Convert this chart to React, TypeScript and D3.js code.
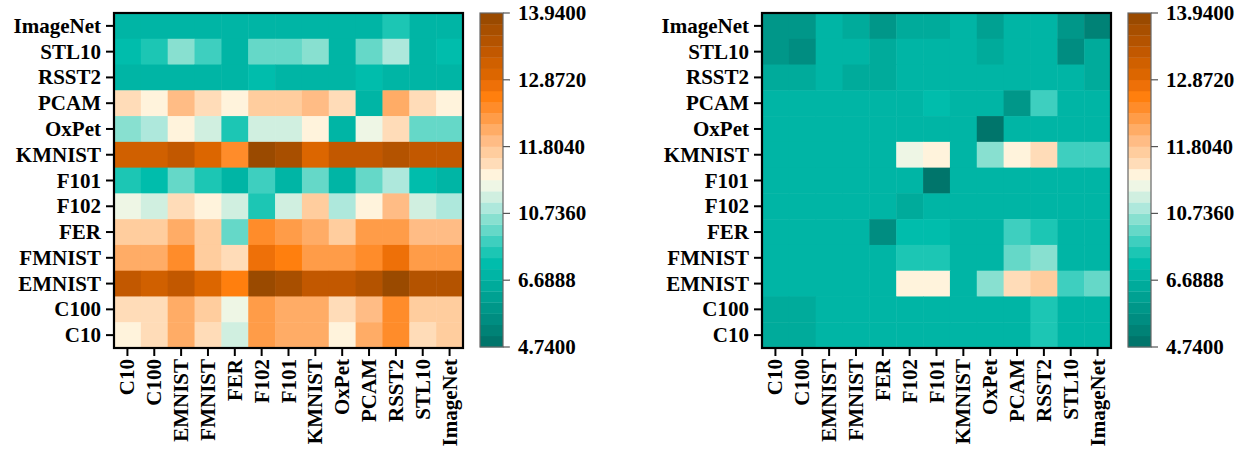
import React from "react";
import * as d3 from "d3";

const rowLabels = ["ImageNet", "STL10", "RSST2", "PCAM", "OxPet", "KMNIST", "F101", "F102", "FER", "FMNIST", "EMNIST", "C100", "C10"];
const colLabels = ["C10", "C100", "EMNIST", "FMNIST", "FER", "F102", "F101", "KMNIST", "OxPet", "PCAM", "RSST2", "STL10", "ImageNet"];

const cbTicks = [4.74, 6.6888, 10.736, 11.804, 12.872, 13.94];
const cbTickLabels = ["4.7400", "6.6888", "10.7360", "11.8040", "12.8720", "13.9400"];

// discrete palette, bottom (low) to top (high)
const palette = [
  "#00756b", "#008276", "#008d81", "#009789", "#00a192", "#00ab9b",
  "#00b5a5", "#00bdac", "#1cc6b4", "#3ecfbf", "#65d8c8", "#88e0d0",
  "#aee8dc", "#d0efe0", "#eef6e5", "#fff3dc", "#ffdcb8", "#ffcd9e",
  "#ffbc85", "#ffac66", "#ff9c48", "#ff8c2a", "#ff7f0e", "#ee7008",
  "#dc6600", "#d06000", "#c25800", "#b45300", "#a84f00", "#9a4a00",
];

const leftValues = [
  [7.03, 7.03, 7.03, 7.03, 7.03, 7.03, 7.03, 7.03, 7.03, 7.03, 8.37, 7.03, 7.03],
  [7.70, 8.37, 10.40, 9.05, 7.03, 9.72, 9.72, 10.40, 7.03, 9.72, 10.83, 7.03, 7.70],
  [7.03, 7.03, 7.03, 7.03, 7.03, 7.70, 7.03, 7.03, 7.03, 7.70, 7.03, 7.03, 7.03],
  [11.54, 11.36, 11.89, 11.54, 11.36, 11.71, 11.71, 11.89, 11.54, 7.03, 12.07, 11.54, 11.36],
  [10.40, 10.83, 11.36, 11.00, 8.37, 11.00, 11.00, 11.36, 7.03, 11.18, 11.54, 9.72, 9.72],
  [13.14, 13.14, 13.32, 12.96, 12.43, 13.85, 13.67, 12.96, 13.32, 13.32, 13.49, 13.32, 13.32],
  [8.37, 7.70, 9.72, 8.37, 7.03, 9.05, 7.03, 9.72, 7.03, 9.72, 10.83, 7.70, 7.03],
  [11.18, 11.00, 11.54, 11.36, 11.00, 8.37, 11.00, 11.71, 10.83, 11.36, 11.89, 11.00, 10.83],
  [11.71, 11.71, 12.07, 11.71, 9.72, 12.43, 12.25, 12.07, 11.71, 12.25, 12.25, 11.89, 11.89],
  [12.07, 12.07, 12.43, 11.71, 11.54, 12.78, 12.60, 12.25, 12.25, 12.43, 12.78, 12.25, 12.25],
  [13.32, 13.14, 13.32, 12.96, 12.60, 13.85, 13.67, 13.32, 13.32, 13.49, 13.85, 13.49, 13.49],
  [11.54, 11.54, 12.07, 11.71, 11.18, 12.25, 12.07, 12.07, 11.54, 11.89, 12.43, 11.71, 11.71],
  [11.36, 11.54, 12.07, 11.54, 11.00, 12.25, 12.07, 12.07, 11.36, 12.07, 12.43, 11.54, 11.71],
];

const rightValues = [
  [5.88, 5.88, 7.03, 6.53, 5.88, 6.53, 6.53, 7.03, 6.20, 7.03, 7.03, 5.88, 5.23],
  [5.88, 5.55, 7.03, 7.03, 6.53, 7.03, 7.03, 7.03, 6.53, 7.03, 7.03, 5.55, 6.53],
  [6.53, 6.53, 7.03, 6.53, 6.53, 7.03, 7.03, 7.03, 7.03, 7.03, 7.03, 7.03, 6.53],
  [7.03, 7.03, 7.03, 7.03, 7.03, 7.03, 7.70, 7.03, 7.03, 5.88, 9.05, 7.03, 7.03],
  [7.03, 7.03, 7.03, 7.03, 7.03, 7.03, 7.03, 7.03, 4.90, 7.03, 7.03, 7.03, 7.03],
  [7.03, 7.03, 7.03, 7.03, 7.03, 11.18, 11.36, 7.03, 10.40, 11.36, 11.54, 9.05, 9.05],
  [7.03, 7.03, 7.03, 7.03, 7.03, 7.03, 4.90, 7.03, 7.03, 7.03, 7.03, 7.03, 7.03],
  [7.03, 7.03, 7.03, 7.03, 7.03, 6.53, 7.03, 7.03, 7.03, 7.03, 7.03, 7.03, 7.03],
  [7.03, 7.03, 7.03, 7.03, 5.55, 7.70, 7.70, 7.03, 7.03, 9.05, 8.37, 7.03, 7.03],
  [7.03, 7.03, 7.03, 7.03, 7.03, 8.37, 8.37, 7.03, 7.03, 9.72, 10.40, 7.03, 7.03],
  [7.03, 7.03, 7.03, 7.03, 7.03, 11.36, 11.36, 7.03, 10.40, 11.54, 11.71, 9.05, 9.72],
  [6.53, 6.53, 7.03, 7.03, 7.03, 7.03, 7.03, 7.03, 7.03, 7.03, 8.37, 7.03, 7.03],
  [6.53, 6.53, 7.03, 7.03, 7.03, 7.03, 7.03, 7.03, 7.03, 7.03, 8.37, 7.03, 7.03],
];

const FONT = "'Liberation Serif', 'Times New Roman', serif";
const FS = 21;

const norm = d3.scaleLinear().domain(cbTicks).range([0, 0.2, 0.4, 0.6, 0.8, 1]).clamp(true);
const colorOf = (v: number) => palette[Math.min(palette.length - 1, Math.floor(norm(v) * palette.length))];

const TOP = 13;
const BOTTOM = 348;
const HM_W = 349;

function Heatmap({ x0, values }: { x0: number; values: number[][] }) {
  const xs = d3.scaleBand<string>().domain(colLabels).range([x0, x0 + HM_W]);
  const ys = d3.scaleBand<string>().domain(rowLabels).range([TOP, BOTTOM]);
  const cbX = x0 + HM_W + 17;
  const cbW = 23;
  const cbTop = 13;
  const cbBottom = 347;
  const cbY = d3.scaleLinear().domain(cbTicks).range(
    cbTicks.map((_, i) => cbBottom - (i / (cbTicks.length - 1)) * (cbBottom - cbTop))
  );
  const bandH = (cbBottom - cbTop) / palette.length;
  return (
    <g>
      {values.map((row, ri) =>
        row.map((v, ci) => (
          <rect
            key={`${ri}-${ci}`}
            x={xs(colLabels[ci])!}
            y={ys(rowLabels[ri])!}
            width={xs.bandwidth() + 0.5}
            height={ys.bandwidth() + 0.5}
            fill={colorOf(v)}
          />
        ))
      )}
      <rect x={x0} y={TOP} width={HM_W} height={BOTTOM - TOP} fill="none" stroke="#000" strokeWidth={2.2} />
      {rowLabels.map((r) => {
        const y = ys(r)! + ys.bandwidth() / 2;
        return (
          <g key={r}>
            <line x1={x0 - 8} x2={x0} y1={y} y2={y} stroke="#000" strokeWidth={2} />
            <text x={x0 - 13} y={y} textAnchor="end" dominantBaseline="central" fontFamily={FONT} fontWeight="bold" fontSize={FS}>
              {r}
            </text>
          </g>
        );
      })}
      {colLabels.map((c) => {
        const x = xs(c)! + xs.bandwidth() / 2;
        return (
          <g key={c}>
            <line x1={x} x2={x} y1={BOTTOM} y2={BOTTOM + 8} stroke="#000" strokeWidth={2} />
            <text
              transform={`translate(${x},${BOTTOM + 11}) rotate(-90)`}
              textAnchor="end"
              dominantBaseline="central"
              fontFamily={FONT}
              fontWeight="bold"
              fontSize={FS}
            >
              {c}
            </text>
          </g>
        );
      })}
      {palette.map((col, i) => (
        <rect key={i} x={cbX} y={cbBottom - (i + 1) * bandH} width={cbW} height={bandH + 0.3} fill={col} />
      ))}
      <rect x={cbX} y={cbTop} width={cbW} height={cbBottom - cbTop} fill="none" stroke="#666" strokeWidth={1.2} />
      {cbTicks.map((t, i) => (
        <g key={t}>
          <line x1={cbX + cbW} x2={cbX + cbW + 7} y1={cbY(t)} y2={cbY(t)} stroke="#555" strokeWidth={1.2} />
          <text x={cbX + cbW + 15} y={cbY(t)} dominantBaseline="central" fontFamily={FONT} fontWeight="bold" fontSize={FS}>
            {cbTickLabels[i]}
          </text>
        </g>
      ))}
    </g>
  );
}

export default function App() {
  return (
    <svg width={1251} height={451} style={{ position: "absolute", left: 0, top: 0, background: "#fff" }}>
      <Heatmap x0={114} values={leftValues} />
      <Heatmap x0={762} values={rightValues} />
    </svg>
  );
}
